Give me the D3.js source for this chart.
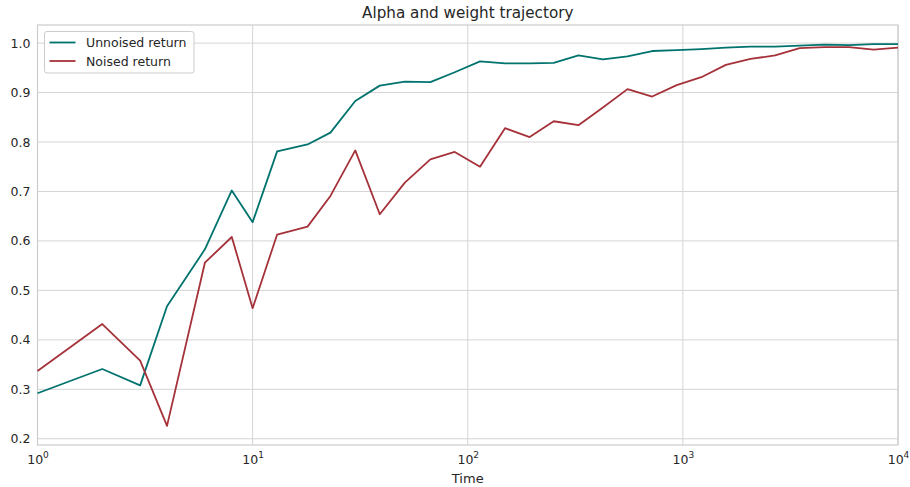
<!DOCTYPE html>
<html>
<head>
<meta charset="utf-8">
<script src="https://cdn.jsdelivr.net/npm/d3@7"></script>
<style>
body{margin:0;background:#fff}
text{font-family:"DejaVu Sans",sans-serif}
</style>
</head>
<body>
<script>
const w=910
const h=487
const margin={top:25,right:12,bottom:42,left:37.5}

// time steps (log-spaced) and both return series
const times=[1,2,3,4,6,8,10,13,18,23,30,39,51,67,87,114,149,194,251,327,425,553,720,936,1218,1584,2062,2683,3493,4545,5916,7700,10000]
const unnoised=[0.292,0.341,0.308,0.468,0.583,0.702,0.638,0.781,0.795,0.819,0.883,0.914,0.922,0.921,0.941,0.963,0.959,0.959,0.960,0.975,0.967,0.973,0.984,0.986,0.988,0.991,0.993,0.993,0.995,0.997,0.996,0.998,0.998]
const noised=[0.337,0.432,0.358,0.226,0.556,0.608,0.464,0.613,0.629,0.691,0.783,0.654,0.718,0.765,0.780,0.750,0.828,0.810,0.842,0.834,0.870,0.907,0.892,0.915,0.931,0.956,0.968,0.975,0.990,0.992,0.992,0.987,0.991]
const seriesNames=["Unnoised return","Noised return"]
const colors=["#00736e","#a5323a"]
const xTicks=[1,10,100,1000,10000]
const yTicks=[0.2,0.3,0.4,0.5,0.6,0.7,0.8,0.9,1.0]

const x=d3.scaleLog()
    .domain([1,10000])
    .range([margin.left,w-margin.right])

const y=d3.scaleLinear()
    .domain([0.1874,1.0366])
    .range([h-margin.bottom,margin.top])

const svg=d3.create("svg")
    .attr("width",w)
    .attr("height",h)

//grid lines
svg.append("g")
    .selectAll("line")
    .data(yTicks)
    .join("line")
    .attr("x1",margin.left)
    .attr("x2",w-margin.right)
    .attr("y1",d=>y(d))
    .attr("y2",d=>y(d))
    .attr("stroke","#d4d4d4")
    .attr("stroke-width",1)

svg.append("g")
    .selectAll("line")
    .data(xTicks)
    .join("line")
    .attr("x1",d=>x(d))
    .attr("x2",d=>x(d))
    .attr("y1",margin.top)
    .attr("y2",h-margin.bottom)
    .attr("stroke","#d4d4d4")
    .attr("stroke-width",1)

//frame
svg.append("rect")
    .attr("x",margin.left)
    .attr("y",margin.top)
    .attr("width",w-margin.left-margin.right)
    .attr("height",h-margin.top-margin.bottom)
    .attr("fill","none")
    .attr("stroke","#cccccc")
    .attr("stroke-width",1.2)

//axes
const xAxis=svg.append("g")
    .attr("transform",`translate(0,${h-margin.bottom})`)
    .call(d3.axisBottom(x).tickValues(xTicks).tickSize(0).tickPadding(10).tickFormat(()=>""))
xAxis.select(".domain").remove()
xAxis.selectAll(".tick text")
    .attr("fill","#262626")
    .attr("font-size",12.5)
    .each(function(d){
        const t=d3.select(this)
        t.append("tspan").text("10")
        t.append("tspan")
            .text(Math.round(Math.log10(d)))
            .attr("font-size",9)
            .attr("dy",-5.5)
    })

const yAxis=svg.append("g")
    .attr("transform",`translate(${margin.left},0)`)
    .call(d3.axisLeft(y).tickValues(yTicks).tickSize(0).tickPadding(7).tickFormat(d3.format(".1f")))
yAxis.select(".domain").remove()
yAxis.selectAll(".tick text")
    .attr("fill","#262626")
    .attr("font-size",12.5)

//lines
const line=d3.line()
    .x((d,i)=>x(times[i]))
    .y(d=>y(d))

;[unnoised,noised].forEach((s,i)=>{
    svg.append("path")
        .datum(s)
        .attr("d",line)
        .attr("fill","none")
        .attr("stroke",colors[i])
        .attr("stroke-width",1.8)
        .attr("stroke-linejoin","round")
})

//title and label
svg.append("text")
    .attr("x",(margin.left+w-margin.right)/2)
    .attr("y",18)
    .attr("text-anchor","middle")
    .attr("font-size",15.2)
    .attr("fill","#262626")
    .text("Alpha and weight trajectory")

svg.append("text")
    .attr("x",(margin.left+w-margin.right)/2)
    .attr("y",483)
    .attr("text-anchor","middle")
    .attr("font-size",13)
    .attr("fill","#262626")
    .text("Time")

//legend
const lg=svg.append("g").attr("transform","translate(44.5,31.5)")
lg.append("rect")
    .attr("width",149.5)
    .attr("height",41.5)
    .attr("rx",2.5)
    .attr("fill","rgba(255,255,255,0.8)")
    .attr("stroke","#cccccc")
seriesNames.forEach((n,i)=>{
    lg.append("line")
        .attr("x1",5).attr("x2",31)
        .attr("y1",11+i*18.5).attr("y2",11+i*18.5)
        .attr("stroke",colors[i])
        .attr("stroke-width",1.8)
    lg.append("text")
        .attr("x",41.5)
        .attr("y",15.5+i*18.5)
        .attr("font-size",12.5)
        .attr("fill","#262626")
        .text(n)
})

d3.select("body")
    .append(()=>svg.node())
</script>
</body>
</html>
